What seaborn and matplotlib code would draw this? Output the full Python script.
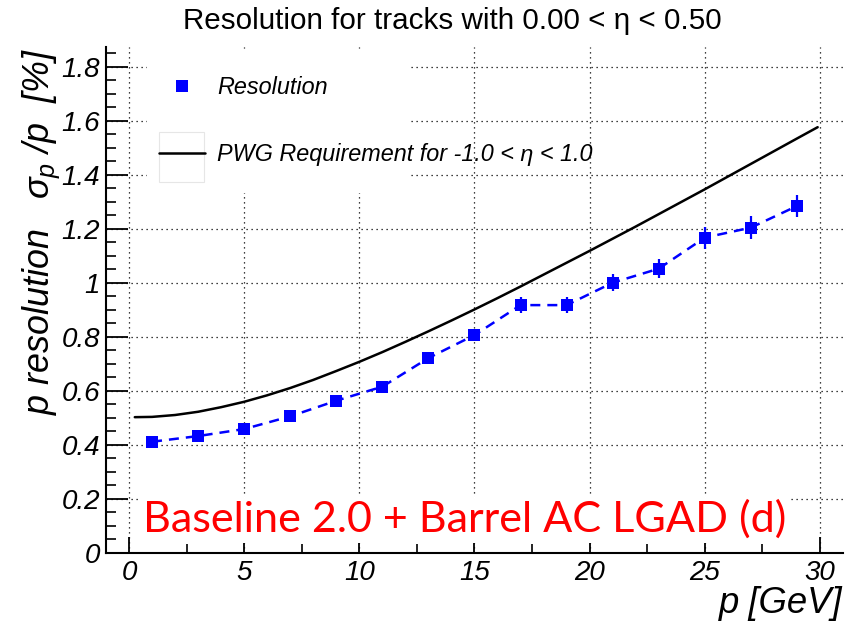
import matplotlib
matplotlib.use("Agg")
import matplotlib.pyplot as plt
import seaborn as sns
from matplotlib.lines import Line2D
from matplotlib.patches import Rectangle
from matplotlib.ticker import MultipleLocator, FixedLocator, FixedFormatter

# ---------------- data ----------------
p_vals = [1, 3, 5, 7, 9, 11, 13, 15, 17, 19, 21, 23, 25, 27, 29]
res_vals = [0.411, 0.432, 0.458, 0.505, 0.563, 0.615, 0.721, 0.806,
            0.917, 0.917, 1.000, 1.052, 1.167, 1.204, 1.284]
res_err = [0.008, 0.009, 0.010, 0.012, 0.013, 0.015, 0.018, 0.022,
           0.031, 0.030, 0.031, 0.034, 0.041, 0.042, 0.041]

req_p = [0.25, 1, 2, 3, 4, 5, 6, 7, 8, 9, 10, 11, 12, 13, 14, 15, 16,
         17, 18, 19, 20, 21, 22, 23, 24, 25, 26, 27, 28, 29, 29.9]
req_vals = [0.502, 0.503, 0.510, 0.522, 0.539, 0.559, 0.583, 0.610,
            0.640, 0.673, 0.707, 0.743, 0.781, 0.820, 0.860, 0.901,
            0.943, 0.986, 1.030, 1.074, 1.118, 1.163, 1.208, 1.254,
            1.300, 1.346, 1.393, 1.440, 1.487, 1.534, 1.576]

x_ticks = [0, 5, 10, 15, 20, 25, 30]
x_tick_labels = ["0", "5", "10", "15", "20", "25", "30"]
y_ticks = [0, 0.2, 0.4, 0.6, 0.8, 1.0, 1.2, 1.4, 1.6, 1.8]
y_tick_labels = ["0", "0.2", "0.4", "0.6", "0.8", "1", "1.2", "1.4", "1.6", "1.8"]

title_text = "Resolution for tracks with 0.00 < η < 0.50"
label_res = "Resolution"
label_req = "PWG Requirement for -1.0 < η < 1.0"
y_label = "p resolution   $\\sigma_{p}$ /p  [%]"
x_label = "p [GeV]"
note_text = "Baseline 2.0 + Barrel AC LGAD (d)"

# ---------------- style ----------------
sns.set_theme(style="white")
plt.rcParams["font.family"] = ["Liberation Sans", "DejaVu Sans"]
plt.rcParams["mathtext.fontset"] = "custom"
plt.rcParams["mathtext.rm"] = "Liberation Sans:italic"
plt.rcParams["mathtext.it"] = "Liberation Sans:italic"
plt.rcParams["mathtext.sf"] = "Liberation Sans:italic"
plt.rcParams["text.color"] = "black"
plt.rcParams["axes.labelcolor"] = "black"
plt.rcParams["xtick.color"] = "black"
plt.rcParams["ytick.color"] = "black"

W, H = 853, 623
fig = plt.figure(figsize=(W / 100, H / 100), dpi=100)
fig.patch.set_facecolor("white")
ax = fig.add_axes([106 / W, 1 - 552.7 / H, (843 - 106) / W, (552.7 - 47) / H])
ax.set_facecolor("white")

# curves
sns.lineplot(x=req_p, y=req_vals, ax=ax, color="black", linewidth=1.8,
             zorder=3, legend=False)
ax.errorbar(p_vals, res_vals, yerr=res_err, fmt="none", ecolor="blue",
            elinewidth=1.6, capsize=0, zorder=4)
sns.lineplot(x=p_vals, y=res_vals, ax=ax, color="blue", linewidth=1.8,
             linestyle=(0, (4, 2.8)), marker="s", markersize=9,
             markeredgewidth=0, markerfacecolor="blue", zorder=5, legend=False)

ax.set_xlim(-1, 31)
ax.set_ylim(0, 1.873)

ax.xaxis.set_major_locator(FixedLocator(x_ticks))
ax.xaxis.set_major_formatter(FixedFormatter(x_tick_labels))
ax.xaxis.set_minor_locator(MultipleLocator(2.5))
ax.yaxis.set_major_locator(FixedLocator(y_ticks))
ax.yaxis.set_major_formatter(FixedFormatter(y_tick_labels))
ax.yaxis.set_minor_locator(MultipleLocator(0.05))

for lab in ax.get_xticklabels() + ax.get_yticklabels():
    lab.set_fontfamily("Liberation Sans")
    lab.set_fontstyle("italic")
    lab.set_fontsize(20)
    lab.set_color("black")

ax.tick_params(axis="x", which="major", direction="in", length=11.5, width=1.3,
               color="black", pad=5, labelsize=20, labelcolor="black")
ax.tick_params(axis="x", which="minor", direction="in", length=6.5, width=1.2,
               color="black")
ax.tick_params(axis="y", which="major", direction="in", length=15.5, width=1.3,
               color="black", pad=4.3, labelsize=20, labelcolor="black")
ax.tick_params(axis="y", which="minor", direction="in", length=7.5, width=1.2,
               color="black")
ax.tick_params(bottom=True, left=True, top=False, right=False, which="both")

for s in ["top", "right"]:
    ax.spines[s].set_visible(False)
for s in ["left", "bottom"]:
    ax.spines[s].set_color("black")
    ax.spines[s].set_linewidth(1.5)

ax.set_axisbelow(True)
ax.grid(True, which="major", color="black", linestyle=(0, (1, 3)),
        linewidth=0.9)

# white area behind the legend
ax.add_patch(Rectangle((147 / W, 1 - 193 / H), (410 - 147) / W, (193 - 50) / H,
                       transform=fig.transFigure, facecolor="white",
                       edgecolor="none", zorder=1))
ax.add_patch(Rectangle((159 / W, 1 - 182 / H), (204 - 159) / W, (182 - 132) / H,
                       transform=fig.transFigure, facecolor="none",
                       edgecolor="#e6e6e6", linewidth=0.8, zorder=1.2))

handles = [
    Line2D([0], [0], marker="s", color="blue", linestyle="none",
           markersize=9, markeredgewidth=0),
    Line2D([0], [0], color="black", linewidth=1.8),
]
leg = ax.legend(handles, [label_res, label_req], loc="upper left",
                bbox_to_anchor=(159 / W, 1 - 76 / H),
                bbox_transform=fig.transFigure, frameon=False, borderpad=0,
                borderaxespad=0, handlelength=1.96, handletextpad=0.52,
                labelspacing=1.9,
                prop=dict(family="Liberation Sans", style="italic", size=16.8))
leg.set_zorder(6)
for txt in leg.get_texts():
    txt.set_color("black")

# title
t_title = fig.text(452 / W, 1 - 21 / H, title_text, ha="center", va="center",
                   fontsize=17, family="Liberation Sans", color="black")

# axis titles
t_ylab = fig.text(41 / W, 1 - 48 / H, y_label, rotation=90, ha="center", va="top",
                  fontsize=22, family="Liberation Sans", style="italic",
                  color="black")
t_xlab = fig.text(843 / W, 1 - 613 / H, x_label, ha="right", va="baseline",
                  fontsize=22, family="Liberation Sans", style="italic",
                  color="black")

# red annotation
t_note = fig.text(143 / W, 1 - 532 / H, note_text, ha="left", va="baseline",
                  fontsize=30, family="Lato", color="red", zorder=7,
                  bbox=dict(facecolor="white", edgecolor="none", pad=3))

# fit sizes of text items to the reference extents
fig.canvas.draw()
r = fig.canvas.get_renderer()
for t, target, dim in [(t_title, 540, "w"), (t_note, 644, "w"),
                       (t_ylab, 367, "h"), (t_xlab, 124, "w")]:
    bb = t.get_window_extent(r)
    cur = bb.width if dim == "w" else bb.height
    t.set_fontsize(t.get_fontsize() * target / cur)

fig.savefig("out.png", dpi=100, facecolor="white")
